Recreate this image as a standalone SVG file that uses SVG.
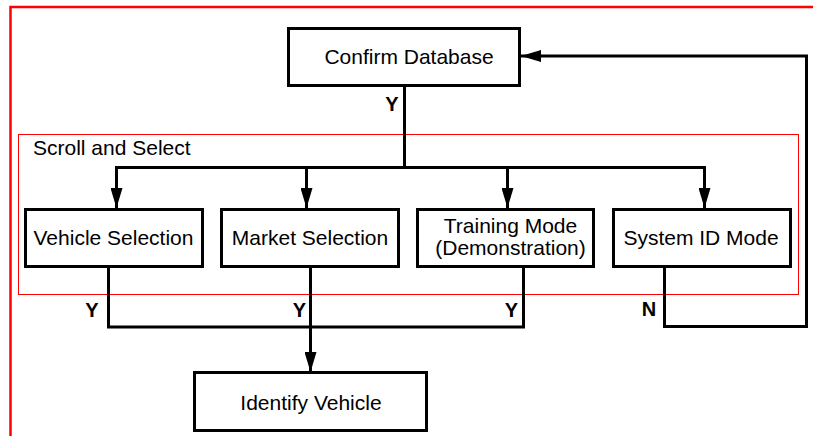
<svg xmlns="http://www.w3.org/2000/svg" width="813" height="436" viewBox="0 0 813 436">
<defs>
<marker id="ah" viewBox="0 0 20 12" refX="20" refY="6" markerWidth="20" markerHeight="12" markerUnits="userSpaceOnUse" orient="auto">
<path d="M0,0 L20,6 L0,12 Z" fill="#000"/>
</marker>
<style>
.box{fill:#fff;stroke:#000;stroke-width:3}
.t{font-family:"Liberation Sans",Arial,sans-serif;font-size:21px;fill:#000;text-anchor:middle}
.lb{font-family:"Liberation Sans",Arial,sans-serif;font-size:20px;font-weight:bold;fill:#000;text-anchor:middle}
.c{fill:none;stroke:#000;stroke-width:3}
</style>
</defs>
<rect width="813" height="436" fill="#fff"/>
<rect x="10.5" y="7" width="820" height="450" fill="none" stroke="#ff0000" stroke-width="2.5"/>
<g id="scroll-and-select">
<rect x="18.5" y="134.5" width="780" height="160" fill="none" stroke="#ff0000" stroke-width="1"/>
<text x="33" y="155" class="t" style="text-anchor:start">Scroll and Select</text>
</g>
<g id="connectors">
<path class="c" d="M404.5,85 V167.5"/>
<path class="c" d="M116.5,167.5 H704.5"/>
<path class="c" d="M116.5,166 V208" marker-end="url(#ah)"/>
<path class="c" d="M306.5,166 V208" marker-end="url(#ah)"/>
<path class="c" d="M507.5,166 V208" marker-end="url(#ah)"/>
<path class="c" d="M704.5,166 V208" marker-end="url(#ah)"/>
<path class="c" d="M108.5,267 V327 H523.5 V267"/>
<path class="c" d="M310.5,267 V372" marker-end="url(#ah)"/>
<path class="c" d="M664.5,267 V326.5 H806.5 V56 H521" marker-end="url(#ah)"/>
<text x="392" y="111" class="lb">Y</text>
<text x="92" y="317" class="lb">Y</text>
<text x="299.5" y="317" class="lb">Y</text>
<text x="511.5" y="317" class="lb">Y</text>
<text x="649" y="316" class="lb">N</text>
</g>
<g id="confirm-database">
<rect class="box" x="288.5" y="28.5" width="231" height="57"/>
<text x="409" y="64" class="t">Confirm Database</text>
</g>
<g id="vehicle-selection">
<rect class="box" x="25.5" y="209.5" width="177" height="57"/>
<text x="113.5" y="245" class="t">Vehicle Selection</text>
</g>
<g id="market-selection">
<rect class="box" x="221.5" y="209.5" width="177" height="57"/>
<text x="310" y="245" class="t">Market Selection</text>
</g>
<g id="training-mode">
<rect class="box" x="417.5" y="209.5" width="176" height="57"/>
<text x="510.5" y="233" class="t">Training Mode</text>
<text x="510.5" y="255" class="t">(Demonstration)</text>
</g>
<g id="system-id-mode">
<rect class="box" x="613.5" y="209.5" width="177" height="57"/>
<text x="701" y="245" class="t">System ID Mode</text>
</g>
<g id="identify-vehicle">
<rect class="box" x="194.5" y="372.5" width="232" height="58"/>
<text x="311" y="410" class="t">Identify Vehicle</text>
</g>
</svg>
